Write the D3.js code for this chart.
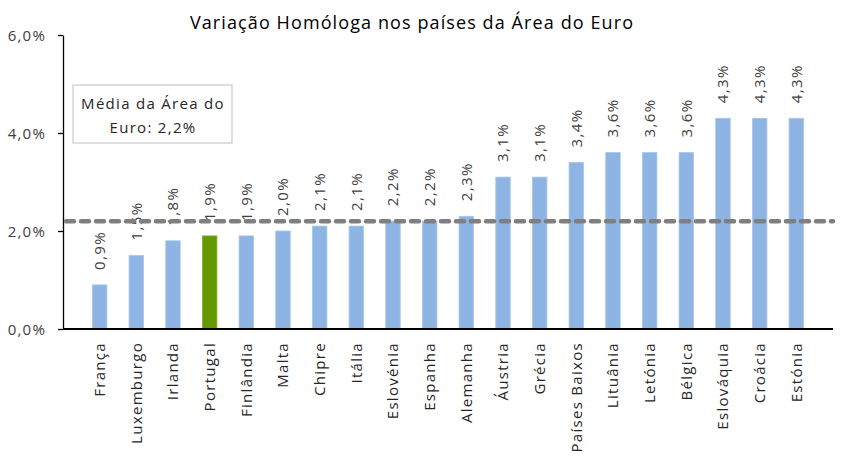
<!DOCTYPE html>
<html>
<head>
<meta charset="utf-8">
<script src="https://cdn.jsdelivr.net/npm/d3@7"></script>
<style>
  body { margin: 0; background: #fff; }
  svg text { font-family: 'Open Sans', 'Noto Sans', sans-serif; }
</style>
</head>
<body>
<svg id="chart" width="845" height="463"></svg>
<script>
const countries = ['França', 'Luxemburgo', 'Irlanda', 'Portugal', 'Finlândia', 'Malta', 'Chipre', 'Itália',
  'Eslovénia', 'Espanha', 'Alemanha', 'Áustria', 'Grécia', 'Países Baixos', 'Lituânia', 'Letónia',
  'Bélgica', 'Eslováquia', 'Croácia', 'Estónia']
const values = [0.9, 1.5, 1.8, 1.9, 1.9, 2.0, 2.1, 2.1, 2.2, 2.2, 2.3, 3.1, 3.1, 3.4, 3.6, 3.6, 3.6, 4.3, 4.3, 4.3]
const euroAverage = 2.2
const highlight = 'Portugal'
const yTicks = [0, 2, 4, 6]
const title = 'Variação Homóloga nos países da Área do Euro'
const noteLines = ['Média da Área do', 'Euro: 2,2%']

const fmt = v => v.toFixed(1).replace('.', ',') + '%'

const svg = d3.select('#chart')
const plotLeft = 63
const plotRight = 833
const plotTop = 35
const plotBottom = 329

const xScale = d3.scalePoint()
  .domain(countries)
  .range([plotLeft, plotRight])
  .padding(1)

const yScale = d3.scaleLinear()
  .domain([0, 6])
  .range([plotBottom, plotTop])

const barW = 14.5

// title
svg.append('text')
  .attr('x', 412)
  .attr('y', 29)
  .attr('text-anchor', 'middle')
  .style('font-size', '18px')
  .style('letter-spacing', '1.1px')
  .style('fill', '#000')
  .text(title)

// y axis
const yAxis = d3.axisLeft(yScale)
  .tickValues(yTicks)
  .tickSize(5)
  .tickSizeOuter(0)
  .tickFormat(fmt)

const gy = svg.append('g')
  .attr('transform', `translate(${plotLeft},0)`)
  .call(yAxis)
gy.select('.domain').attr('stroke', '#000').attr('stroke-width', 1.3)
gy.selectAll('.tick line').attr('stroke', '#000').attr('stroke-width', 1.3)
gy.selectAll('.tick text')
  .attr('x', -17)
  .attr('dy', '0.35em')
  .style('font-size', '15px')
  .style('letter-spacing', '1.2px')
  .style('fill', '#404040')
  .style('font-family', "'Open Sans', sans-serif")

// bars
svg.append('g')
  .selectAll('rect')
  .data(countries)
  .join('rect')
  .attr('x', d => xScale(d) - barW / 2)
  .attr('y', (d, i) => yScale(values[i]))
  .attr('width', barW)
  .attr('height', (d, i) => yScale(0) - yScale(values[i]))
  .attr('fill', d => d === highlight ? '#669900' : '#8DB4E2')
  .attr('stroke', d => d === highlight ? '#85B22E' : '#A9C6EA')
  .attr('stroke-width', 0.8)

// value labels
svg.append('g')
  .selectAll('text')
  .data(countries)
  .join('text')
  .attr('transform', (d, i) => `translate(${xScale(d)},${yScale(values[i]) - 15}) rotate(-90)`)
  .attr('dy', '0.35em')
  .attr('text-anchor', 'start')
  .style('font-size', '15px')
  .style('letter-spacing', '1.4px')
  .style('fill', '#404040')
  .text((d, i) => fmt(values[i]))

// x axis line
svg.append('line')
  .attr('x1', plotLeft)
  .attr('x2', plotRight)
  .attr('y1', yScale(0))
  .attr('y2', yScale(0))
  .attr('stroke', '#000')
  .attr('stroke-width', 2)

// category labels
svg.append('g')
  .selectAll('text')
  .data(countries)
  .join('text')
  .attr('transform', d => `translate(${xScale(d)},342) rotate(-90)`)
  .attr('dy', '0.35em')
  .attr('text-anchor', 'end')
  .style('font-size', '15px')
  .style('letter-spacing', '1.3px')
  .style('fill', '#262626')
  .text(d => d)

// euro average dashed line
svg.append('line')
  .attr('x1', plotLeft + 3)
  .attr('x2', plotRight)
  .attr('y1', yScale(euroAverage))
  .attr('y2', yScale(euroAverage))
  .attr('stroke', '#7F7F7F')
  .attr('stroke-width', 4.5)
  .attr('stroke-linecap', 'round')
  .attr('stroke-dasharray', '8 7')

// note box
const note = svg.append('g').attr('transform', 'translate(73,85)')
note.append('rect')
  .attr('width', 159)
  .attr('height', 58)
  .attr('fill', '#fff')
  .attr('stroke', '#BFBFBF')
note.selectAll('text')
  .data(noteLines)
  .join('text')
  .attr('x', 80)
  .attr('y', (d, i) => 24 + i * 24)
  .attr('text-anchor', 'middle')
  .style('font-size', '15px')
  .style('letter-spacing', '1.3px')
  .style('fill', '#262626')
  .text(d => d)
</script>
</body>
</html>
